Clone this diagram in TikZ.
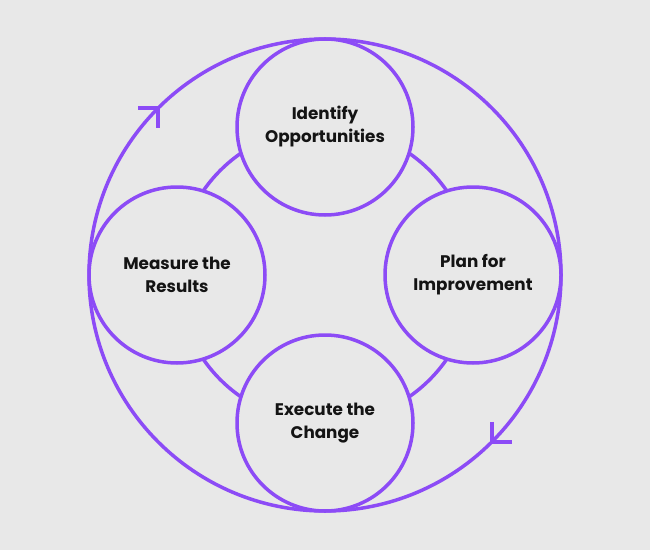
\documentclass[tikz,border=0pt]{standalone}
\usepackage{fontspec}
\setmainfont{Poppins}
\usetikzlibrary{calc}
\definecolor{ringpurple}{HTML}{8C4BF6}
\definecolor{paper}{HTML}{E8E8E8}
\definecolor{ink}{HTML}{141414}
\def\rbig{236}
\def\rsmall{88}
\def\dist{148}
\def\barb{20}

\begin{document}
\begin{tikzpicture}[x=1pt,y=1pt,
  ring/.style={draw=ringpurple,line width=3.5pt},
  phase/.style={circle,ring,fill=paper,minimum size={2*\rsmall*1pt},inner sep=0pt,
    align=center,text=ink,font=\fontsize{16.8}{23}\selectfont\bfseries}]

%The picture is 650 x 550, one unit is one pixel.
\fill[paper] (0,0) rectangle (650,550);

\coordinate (c) at (325,275);

%inner ring through the centres, outer cycle touching the phases
\draw[ring] (c) circle (\dist);
\draw[ring] (c) circle (\rbig);

\foreach \ang/\name/\txt in {90/identify/{Identify\\Opportunities},
    0/plan/{Plan for\\Improvement},
    -90/execute/{Execute the\\Change},
    180/measure/{Measure the\\Results}}{
   \node[phase] (\name) at ($(c)+(\ang:\dist)$) {\txt};
}

%open arrow heads, clockwise
\coordinate (tipA) at ($(c)+(135:\rbig)$);
\coordinate (tipB) at ($(c)+(-45:\rbig)$);
\draw[ring] ($(tipA)+(-\barb,0)$) -- (tipA) -- ($(tipA)+(0,-\barb)$);
\draw[ring] ($(tipB)+(0,\barb)$) -- (tipB) -- ($(tipB)+(\barb,0)$);

\end{tikzpicture}
\end{document}
